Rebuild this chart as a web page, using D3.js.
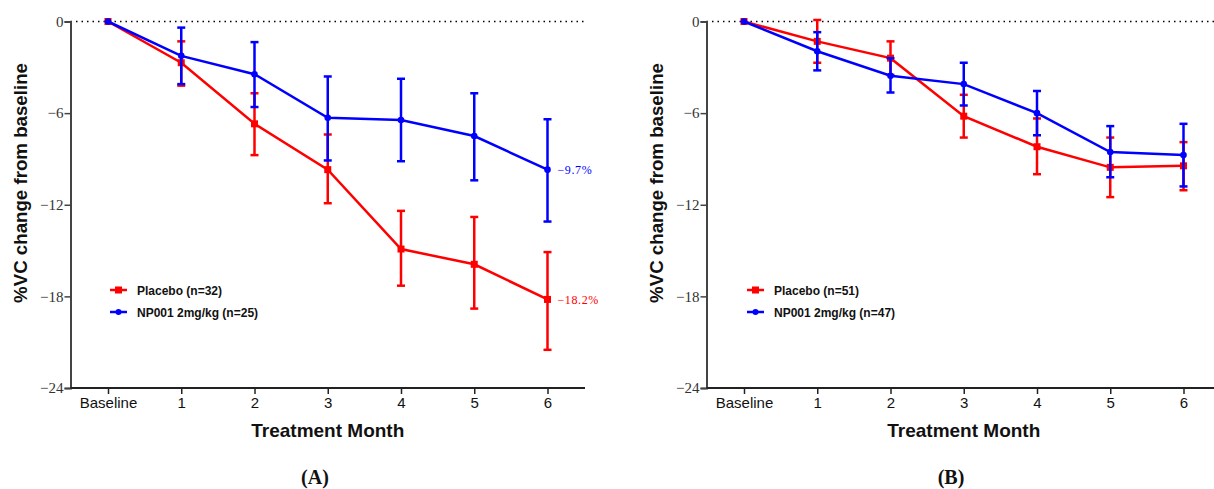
<!DOCTYPE html>
<html><head><meta charset="utf-8">
<script src="https://cdn.jsdelivr.net/npm/d3@7"></script>
<style>body{margin:0;background:#fff}svg{display:block}</style>
</head><body>
<svg id="c" width="1214" height="489"></svg>
<script>
const categories = ["Baseline","1","2","3","4","5","6"];
const yTicks = [0,-6,-12,-18,-24];

// Panel A
const placeboA = [0,-2.7,-6.7,-9.7,-14.9,-15.9,-18.2];
const placeboA_hi = [0,-1.3,-4.7,-7.4,-12.4,-12.8,-15.1];
const placeboA_lo = [0,-4.2,-8.75,-11.9,-17.3,-18.8,-21.5];
const npA = [0,-2.25,-3.45,-6.3,-6.45,-7.5,-9.7];
const npA_hi = [0,-0.4,-1.35,-3.6,-3.75,-4.7,-6.4];
const npA_lo = [0,-4.1,-5.6,-9.1,-9.15,-10.4,-13.1];
const legendA = ["Placebo (n=32)","NP001 2mg/kg (n=25)"];
const endLabelsA = ["\u22129.7%","\u221218.2%"];

// Panel B
const placeboB = [0,-1.3,-2.4,-6.2,-8.2,-9.55,-9.45];
const placeboB_hi = [0,0.1,-1.3,-4.8,-6.35,-7.6,-7.9];
const placeboB_lo = [0,-2.7,-3.5,-7.6,-10.0,-11.5,-11.05];
const npB = [0,-1.95,-3.55,-4.1,-6.0,-8.55,-8.75];
const npB_hi = [0,-0.7,-2.4,-2.7,-4.55,-6.85,-6.7];
const npB_lo = [0,-3.2,-4.65,-5.5,-7.45,-10.2,-10.8];
const legendB = ["Placebo (n=51)","NP001 2mg/kg (n=47)"];

const svg = d3.select("#c");
const RED = "#ff0000", BLUE = "#0000ff";

function panel(opt){
  const g = svg.append("g");
  const x = d3.scalePoint().domain(categories).range([opt.x0 + 37.5, opt.x0 + 477]);
  const y = d3.scaleLinear().domain([-24,0]).range([388,21.5]);
  // dotted zero line
  g.append("line").attr("x1",opt.x0).attr("x2",opt.xEnd).attr("y1",y(0)).attr("y2",y(0))
    .attr("stroke","#000").attr("stroke-width",1.5).attr("stroke-dasharray","1.5,4");
  // y axis
  const ya = g.append("g").attr("transform",`translate(${opt.x0},0)`)
    .call(d3.axisLeft(y).tickValues(yTicks).tickSize(6).tickFormat(d=> d===0?"0":"\u2212"+Math.abs(d)));
  ya.select(".domain").attr("stroke","#444").attr("stroke-width",2);
  ya.selectAll(".tick line").attr("stroke","#444").attr("stroke-width",1.5);
  ya.selectAll(".tick text").attr("font-family","'Liberation Serif','DejaVu Serif',serif")
    .attr("font-size",15).attr("fill","#333").attr("x",-7);
  // x axis
  const xa = g.append("g").attr("transform",`translate(0,${y(-24)})`)
    .call(d3.axisBottom(x).tickSize(6).tickSizeOuter(0));
  xa.select(".domain").attr("stroke","#222").attr("stroke-width",2)
    .attr("d",`M${opt.x0},0H${opt.xEnd}`);
  xa.selectAll(".tick line").attr("stroke","#222").attr("stroke-width",1.5);
  xa.selectAll(".tick text").attr("font-family","'Liberation Sans',Arial,sans-serif")
    .attr("font-size",15).attr("fill","#111").attr("y",9);
  // titles
  g.append("text").attr("x",x("3")).attr("y",437).attr("text-anchor","middle")
    .attr("font-family","'Liberation Sans',Arial,sans-serif").attr("font-weight","bold")
    .attr("font-size",19).attr("fill","#111").text("Treatment Month");
  g.append("text").attr("transform",`translate(${opt.x0-44},183) rotate(-90)`)
    .attr("text-anchor","middle")
    .attr("font-family","'Liberation Sans',Arial,sans-serif").attr("font-weight","bold")
    .attr("font-size",18.7).attr("fill","#111").text("%VC change from baseline");
  g.append("text").attr("x",opt.panelX).attr("y",484).attr("text-anchor","middle")
    .attr("font-family","'Liberation Serif','DejaVu Serif',serif").attr("font-weight","bold")
    .attr("font-size",20).attr("fill","#111").text(opt.panelLabel);

  const line = d3.line().x((d,i)=>x(categories[i])).y(d=>y(d));
  function series(vals, hi, lo, color, shape){
    const s = g.append("g");
    const eb = s.selectAll("g.eb").data(vals).enter().append("g");
    eb.append("line").attr("x1",(d,i)=>x(categories[i])).attr("x2",(d,i)=>x(categories[i]))
      .attr("y1",(d,i)=>y(hi[i])).attr("y2",(d,i)=>y(lo[i])).attr("stroke",color).attr("stroke-width",2.5);
    [hi,lo].forEach(arr=>{
      eb.append("line").attr("x1",(d,i)=>x(categories[i])-4).attr("x2",(d,i)=>x(categories[i])+4)
        .attr("y1",(d,i)=>y(arr[i])).attr("y2",(d,i)=>y(arr[i])).attr("stroke",color).attr("stroke-width",2.5)
        .attr("opacity",(d,i)=>i===0?0:1);
    });
    s.append("path").datum(vals).attr("d",line).attr("fill","none").attr("stroke",color).attr("stroke-width",2.5);
    if(shape==="square"){
      s.selectAll("rect").data(vals).enter().append("rect")
        .attr("x",(d,i)=>x(categories[i])-3.5).attr("y",d=>y(d)-3.5).attr("width",7).attr("height",7).attr("fill",color);
    } else {
      s.selectAll("circle").data(vals).enter().append("circle")
        .attr("cx",(d,i)=>x(categories[i])).attr("cy",d=>y(d)).attr("r",3.3).attr("fill",color);
    }
  }
  opt.series.forEach(s=>series(...s));

  // legend
  const lg = g.append("g");
  const items = [[opt.legend[0],RED,"square"],[opt.legend[1],BLUE,"circle"]];
  items.forEach((it,k)=>{
    const ly = 290 + k*22, lx = opt.legX;
    lg.append("line").attr("x1",lx).attr("x2",lx+17).attr("y1",ly).attr("y2",ly).attr("stroke",it[1]).attr("stroke-width",2.5);
    if(it[2]==="square") lg.append("rect").attr("x",lx+5).attr("y",ly-3.5).attr("width",7).attr("height",7).attr("fill",it[1]);
    else lg.append("circle").attr("cx",lx+8.5).attr("cy",ly).attr("r",3).attr("fill",it[1]);
    lg.append("text").attr("x",lx+27).attr("y",ly+4.5).attr("font-family","'Liberation Sans',Arial,sans-serif")
      .attr("font-weight","bold").attr("font-size",12).attr("fill","#111").text(it[0]);
  });
  return {x,y,g};
}

const A = panel({x0:70.5, xEnd:585, panelX:315, panelLabel:"(A)", legX:110, legend:legendA,
  series:[[placeboA,placeboA_hi,placeboA_lo,RED,"square"],[npA,npA_hi,npA_lo,BLUE,"circle"]]});
A.g.append("text").attr("x",A.x("6")+10).attr("y",A.y(npA[6])+4.5).attr("letter-spacing",0.6)
  .attr("font-family","'Liberation Serif','DejaVu Serif',serif").attr("font-size",12).attr("fill",BLUE).text(endLabelsA[0]);
A.g.append("text").attr("x",A.x("6")+10).attr("y",A.y(placeboA[6])+4.5).attr("letter-spacing",0.6)
  .attr("font-family","'Liberation Serif','DejaVu Serif',serif").attr("font-size",12).attr("fill",RED).text(endLabelsA[1]);

const B = panel({x0:706.5, xEnd:1214, panelX:951, panelLabel:"(B)", legX:747, legend:legendB,
  series:[[placeboB,placeboB_hi,placeboB_lo,RED,"square"],[npB,npB_hi,npB_lo,BLUE,"circle"]]});
</script>
</body></html>
